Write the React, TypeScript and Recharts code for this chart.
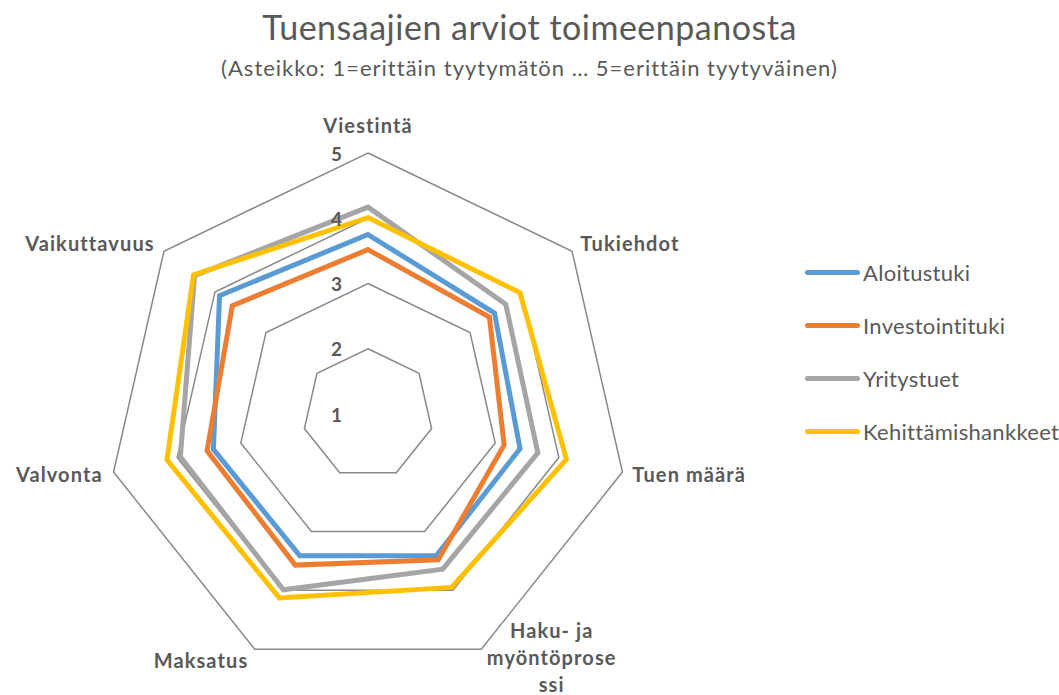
import React from 'react';
import { RadarChart, PolarGrid, PolarAngleAxis, PolarRadiusAxis, Radar } from 'recharts';

const categories = [
  'Viestintä',
  'Tukiehdot',
  'Tuen määrä',
  'Haku- ja myöntöprosessi',
  'Maksatus',
  'Valvonta',
  'Vaikuttavuus',
];

const aloitustuki = [3.75, 3.48, 3.39, 3.41, 3.41, 3.43, 3.91];
const investointituki = [3.52, 3.38, 3.14, 3.48, 3.57, 3.53, 3.66];
const yritystuet = [4.17, 3.7, 3.67, 3.64, 3.99, 3.95, 4.4];
const kehittamishankkeet = [4.01, 3.98, 4.12, 3.95, 4.13, 4.16, 4.42];

const radiusTicks = [1, 2, 3, 4, 5];

const series = [
  { key: 'Aloitustuki', values: aloitustuki, color: '#5B9BD5' },
  { key: 'Investointituki', values: investointituki, color: '#ED7D31' },
  { key: 'Yritystuet', values: yritystuet, color: '#A5A5A5' },
  { key: 'Kehittämishankkeet', values: kehittamishankkeet, color: '#FFC000' },
];

const data = categories.map((cat, i) => {
  const row: any = { cat };
  series.forEach((s) => (row[s.key] = s.values[i]));
  return row;
});

const FONT = 'Lato, "Open Sans", sans-serif';

// category labels are wrapped the way the original chart shows them
const wrapped: Record<string, string[]> = {
  'Haku- ja myöntöprosessi': ['Haku- ja', 'myöntöprose', 'ssi'],
};

const AngleTick = (props: any) => {
  const { x, y, payload, textAnchor } = props;
  const label: string = payload.value;
  const lines = wrapped[label];
  const common = { fill: '#595959', fontSize: 20, fontWeight: 700, fontFamily: FONT, letterSpacing: 1.1 };
  if (lines) {
    return (
      <text x={x + 67} y={y - 26} textAnchor="middle" dominantBaseline="central" {...common}>
        {lines.map((l, i) => (
          <tspan key={i} x={x + 67} dy={i === 0 ? 0 : 27}>
            {l}
          </tspan>
        ))}
      </text>
    );
  }
  let dx = 0;
  let dy = 0;
  if (textAnchor === 'middle') dy = -20;
  if (textAnchor === 'start') dx = 2;
  if (textAnchor === 'end') dx = -3;
  if (label === 'Tukiehdot' || label === 'Vaikuttavuus') dy = -3;
  if (label === 'Maksatus') dy = 4;
  return (
    <text x={x + dx} y={y + dy} textAnchor={textAnchor} dominantBaseline="central" {...common}>
      {label}
    </text>
  );
};

const RadiusTick = (props: any) => {
  const { x, y, payload } = props;
  return (
    <text
      x={x - 26}
      y={y}
      textAnchor="end"
      dominantBaseline="central"
      fill="#595959"
      fontSize={19}
      fontWeight={700}
      fontFamily={FONT}
    >
      {payload.value}
    </text>
  );
};

export default function App() {
  return (
    <div style={{ position: 'absolute', left: 0, top: 0, width: 1059, height: 695, background: '#fff', fontFamily: FONT }}>
      <div style={{ position: 'absolute', left: 0, width: 1059, top: 6, textAlign: 'center', fontSize: 34, letterSpacing: 0.5, color: '#595959' }}>
        Tuensaajien arviot toimeenpanosta
      </div>
      <div style={{ position: 'absolute', left: 0, width: 1059, top: 54, textAlign: 'center', fontSize: 22, letterSpacing: 1, color: '#595959' }}>
        (Asteikko: 1=erittäin tyytymätön … 5=erittäin tyytyväinen)
      </div>
      <RadarChart width={1059} height={695} data={data} cx={368} cy={414} outerRadius={261} margin={{ top: 0, right: 0, bottom: 0, left: 0 }}>
        <PolarGrid gridType="polygon" radialLines={false} stroke="#898989" strokeWidth={1.5} />
        <PolarAngleAxis dataKey="cat" axisLine={false} tickLine={false} tick={<AngleTick />} />
        <PolarRadiusAxis
          angle={90}
          domain={[1, 5]}
          ticks={radiusTicks as any}
          tickCount={5}
          axisLine={false}
          tickLine={false}
          tick={<RadiusTick />}
        />
        {series.map((s) => (
          <Radar
            key={s.key}
            name={s.key}
            dataKey={s.key}
            stroke={s.color}
            strokeWidth={5}
            strokeLinejoin="miter"
            fill="none"
            fillOpacity={0}
            dot={false}
            isAnimationActive={false}
          />
        ))}
      </RadarChart>
      <div style={{ position: 'absolute', left: 805, top: 255 }}>
        {series.map((s, i) => (
          <div key={s.key} style={{ position: 'absolute', left: 0, top: i * 53.3, display: 'flex', alignItems: 'center', height: 34, whiteSpace: 'nowrap' }}>
            <div style={{ width: 55, height: 5, borderRadius: 3, background: s.color, marginRight: 3 }} />
            <span style={{ fontSize: 22, letterSpacing: 0.3, color: '#595959' }}>{s.key}</span>
          </div>
        ))}
      </div>
    </div>
  );
}
